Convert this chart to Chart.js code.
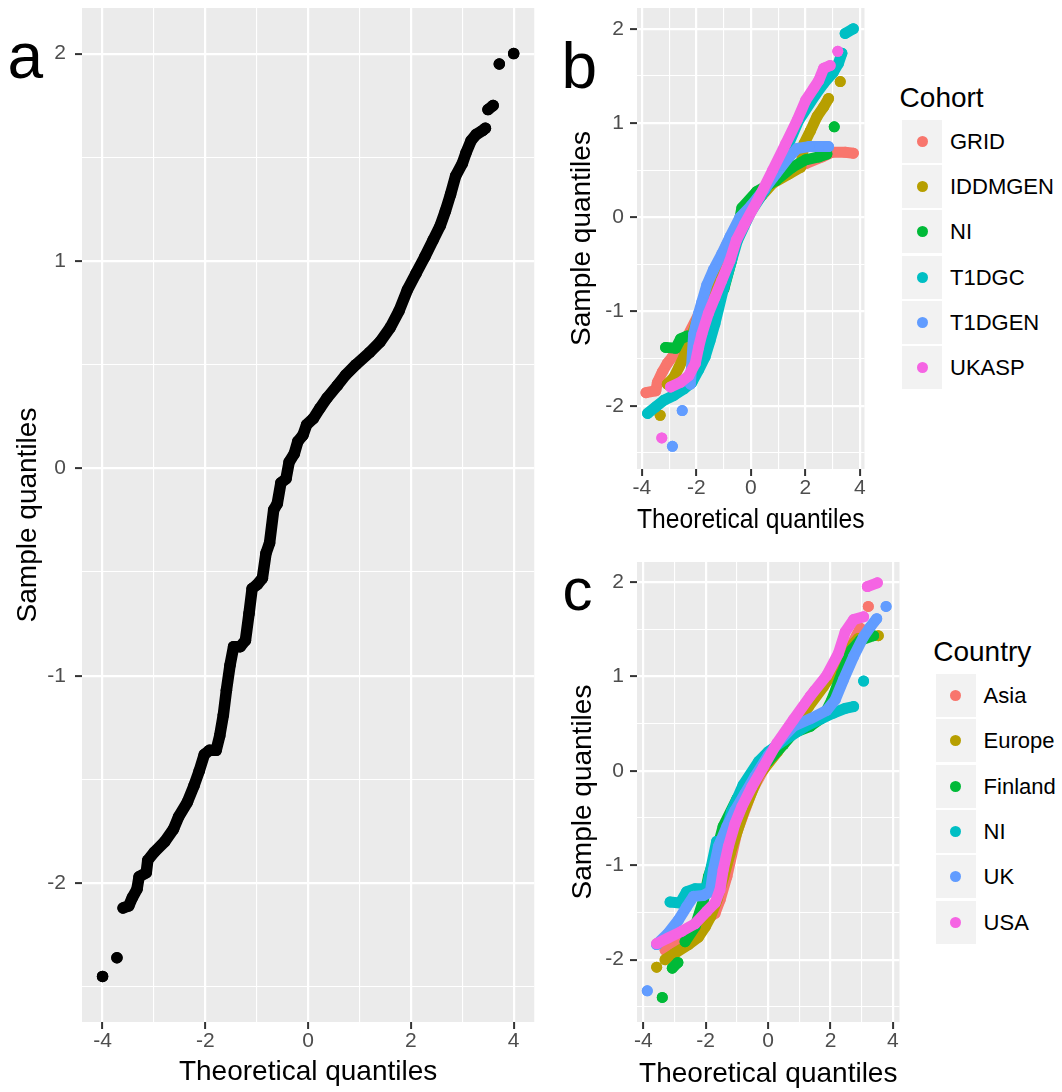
<!DOCTYPE html>
<html>
<head>
<meta charset="utf-8">
<script src="https://cdn.jsdelivr.net/npm/chart.js@4.4.1/dist/chart.umd.min.js"></script>
<style>
  html, body { margin: 0; padding: 0; background: #fff; }
  #page { position: relative; width: 1062px; height: 1092px; overflow: hidden; font-family: 'Liberation Sans', Arial, sans-serif; }
  canvas { position: absolute; }
  .tag { position: absolute; line-height: 1; color: #000; }
  .legend-title { position: absolute; font-size: 28px; line-height: 28px; color: #000; white-space: nowrap; }
  .key { position: absolute; width: 42px; height: 45px; background: #F2F2F2; border: 1.5px solid #fff; box-sizing: border-box; }
  .dot { position: absolute; width: 11px; height: 11px; border-radius: 50%; }
  .key-label { position: absolute; font-size: 22px; line-height: 45px; height: 45px; color: #000; white-space: nowrap; }
</style>
</head>
<body>
<div id="page">
  <canvas id="qqAll" width="540" height="1092" style="left:0;top:0"></canvas>
  <canvas id="qqCohort" width="310" height="540" style="left:560px;top:0"></canvas>
  <canvas id="qqCountry" width="345" height="552" style="left:560px;top:540px"></canvas>
</div>
<script>
// QQ data: [theoretical, sample]; null = gap between separate dots
const allSamples = [
  [-4.00, -2.45], null, [-3.72, -2.36], null,
  [-3.60, -2.12], [-3.49, -2.11], [-3.42, -2.07], [-3.33, -2.03], [-3.29, -1.97], [-3.15, -1.95],
  [-3.12, -1.89], [-2.99, -1.85], [-2.79, -1.80], [-2.62, -1.74], [-2.52, -1.68], [-2.35, -1.61],
  [-2.22, -1.53], [-2.12, -1.46], [-2.02, -1.38], [-1.92, -1.36], [-1.79, -1.36], [-1.72, -1.29],
  [-1.65, -1.19], [-1.59, -1.07], [-1.52, -0.95], [-1.45, -0.86], [-1.32, -0.86], [-1.22, -0.83],
  [-1.15, -0.70], [-1.09, -0.58], [-0.99, -0.56], [-0.89, -0.53], [-0.82, -0.41], [-0.75, -0.36],
  [-0.67, -0.20], [-0.60, -0.17], [-0.53, -0.07], [-0.43, -0.05], [-0.37, 0.03], [-0.27, 0.07],
  [-0.20, 0.13], [-0.10, 0.16], [-0.03, 0.21], [0.10, 0.24], [0.23, 0.29], [0.37, 0.34],
  [0.57, 0.40], [0.73, 0.45], [0.93, 0.50], [1.20, 0.56], [1.40, 0.61], [1.60, 0.68],
  [1.77, 0.76], [1.93, 0.86], [2.10, 0.94], [2.27, 1.02], [2.43, 1.10], [2.57, 1.17],
  [2.67, 1.24], [2.77, 1.32], [2.87, 1.41], [3.00, 1.47], [3.07, 1.52], [3.17, 1.58],
  [3.27, 1.61], [3.40, 1.63], [3.45, 1.64], null, [3.50, 1.73], [3.60, 1.75], null,
  [3.72, 1.95], null, [4.00, 2.00]
];

const cohortNames = ['GRID', 'IDDMGEN', 'NI', 'T1DGC', 'T1DGEN', 'UKASP'];
const gridSamples = [
  [-3.85, -1.86], [-3.49, -1.84], [-3.43, -1.75], [-3.25, -1.64], [-3.07, -1.55], [-2.88, -1.48],
  [-2.70, -1.41], [-2.34, -1.27], [-1.90, -1.02], [-1.40, -0.62], [-0.90, -0.30], [-0.40, -0.02],
  [0.00, 0.13], [0.60, 0.32], [1.20, 0.47], [1.60, 0.53], [2.01, 0.57], [2.61, 0.64],
  [2.97, 0.69], [3.46, 0.69], [3.76, 0.68]
];
const iddmgenSamples = [
  [-3.33, -2.10], null,
  [-3.07, -1.77], [-2.83, -1.70], [-2.64, -1.59], [-2.46, -1.48], [-2.34, -1.38], [-2.10, -1.20],
  [-1.98, -1.09], [-1.60, -0.85], [-1.10, -0.50], [-0.60, -0.18], [0.00, 0.10], [0.40, 0.23],
  [0.80, 0.36], [1.40, 0.46], [1.83, 0.53], [1.95, 0.78], [2.19, 0.92], [2.43, 1.07],
  [2.67, 1.17], [2.85, 1.26], null, [3.28, 1.44]
];
const niSamples = [
  [-3.13, -1.38], [-2.76, -1.39], [-2.58, -1.29], [-2.34, -1.26], [-2.16, -1.27], [-1.90, -1.12],
  [-1.62, -0.99], [-0.99, -0.76], [-0.71, -0.46], [-0.33, 0.10], [0.20, 0.27], [0.92, 0.39],
  [1.52, 0.53], [2.01, 0.61], [2.49, 0.64], [2.79, 0.67], null, [3.06, 0.96]
];
const t1dgcSamples = [
  [-3.79, -2.08], [-3.49, -2.01], [-3.19, -1.94], [-2.83, -1.89], [-2.46, -1.82], [-2.16, -1.75],
  [-1.92, -1.62], [-1.68, -1.48], [-1.50, -1.31], [-1.32, -1.13], [-1.00, -0.75], [-0.50, -0.25],
  [0.00, 0.06], [0.50, 0.28], [1.00, 0.55], [1.30, 0.72], [1.76, 1.03], [2.37, 1.30],
  [2.67, 1.42], [3.03, 1.54], [3.21, 1.63], [3.34, 1.74], null, [3.46, 1.95], [3.76, 2.00]
];
const t1dgenSamples = [
  [-2.88, -2.43], null, [-2.52, -2.05], null,
  [-2.22, -1.77], [-2.10, -1.24], [-1.92, -1.02], [-1.80, -0.90], [-1.62, -0.72], [-1.38, -0.56],
  [-1.07, -0.39], [-0.77, -0.21], [-0.40, 0.00], [0.00, 0.12], [0.50, 0.30], [0.92, 0.46],
  [1.40, 0.64], [1.70, 0.73], [2.13, 0.75], [2.55, 0.75], [2.85, 0.75]
];
const ukaspSamples = [
  [-3.27, -2.34], null,
  [-2.95, -1.80], [-2.58, -1.75], [-2.28, -1.68], [-2.04, -1.55], [-1.92, -1.38], [-1.80, -1.24],
  [-1.56, -1.02], [-1.32, -0.85], [-1.07, -0.67], [-0.77, -0.46], [-0.53, -0.24], [-0.23, -0.07],
  [0.32, 0.22], [0.80, 0.50], [1.28, 0.78], [1.70, 1.03], [2.01, 1.24], [2.31, 1.37],
  [2.49, 1.45], [2.67, 1.58], [2.91, 1.61], null, [3.19, 1.76]
];

const countryNames = ['Asia', 'Europe', 'Finland', 'NI', 'UK', 'USA'];
const asiaSamples = [
  [-3.30, -1.90], [-2.80, -1.78], [-2.30, -1.65], [-1.70, -1.51], [-1.54, -1.37], [-1.32, -1.12],
  [-1.00, -0.65], [-0.50, -0.20], [0.00, 0.10], [0.50, 0.35], [1.00, 0.60], [1.50, 0.85],
  [2.00, 1.00], [2.63, 1.30], [2.95, 1.51], null, [3.21, 1.74]
];
const europeSamples = [
  [-3.57, -2.08], null,
  [-3.30, -2.00], [-2.98, -1.93], [-2.55, -1.84], [-2.23, -1.76], [-2.01, -1.65], [-1.85, -1.55],
  [-1.64, -1.37], [-1.42, -1.12], [-1.21, -0.87], [-0.80, -0.45], [-0.30, -0.05], [0.30, 0.20],
  [0.80, 0.45], [1.30, 0.68], [1.77, 0.89], [2.30, 1.14], [2.75, 1.35], [2.89, 1.40], null,
  [3.53, 1.43]
];
const finlandSamples = [
  [-3.39, -2.40], null, [-3.07, -2.09], [-2.89, -2.03], null,
  [-2.66, -1.81], [-2.34, -1.65], [-2.07, -1.37], [-1.91, -1.12], [-1.70, -0.91], [-1.44, -0.59],
  [-1.00, -0.30], [-0.50, -0.05], [0.00, 0.10], [0.50, 0.28], [0.81, 0.40], [1.35, 0.47],
  [1.77, 0.57], [2.04, 0.75], [2.36, 1.03], [2.68, 1.28], [2.95, 1.38], [3.38, 1.43]
];
const niCountrySamples = [
  [-3.14, -1.39], [-2.82, -1.40], [-2.61, -1.28], [-2.34, -1.25], [-1.97, -1.25], [-1.65, -0.75],
  [-1.44, -0.75], [-1.17, -0.43], [-0.80, -0.15], [-0.30, 0.10], [0.00, 0.20], [0.50, 0.32],
  [1.20, 0.47], [1.70, 0.55], [2.09, 0.61], [2.47, 0.66], [2.74, 0.68], null, [3.06, 0.95]
];
const ukSamples = [
  [-3.87, -2.33], null,
  [-3.57, -1.84], [-3.20, -1.72], [-2.87, -1.58], [-2.61, -1.44], [-2.39, -1.33], [-2.07, -1.32],
  [-1.85, -1.28], [-1.75, -1.05], [-1.59, -0.80], [-1.32, -0.59], [-1.06, -0.42], [-0.74, -0.24],
  [-0.42, -0.06], [0.00, 0.16], [0.40, 0.33], [0.81, 0.47], [1.35, 0.55], [1.88, 0.64],
  [2.15, 0.75], [2.41, 0.96], [2.74, 1.21], [3.06, 1.42], [3.27, 1.52], [3.48, 1.61], null,
  [3.78, 1.74]
];
const usaSamples = [
  [-3.57, -1.83], [-3.20, -1.77], [-2.77, -1.70], [-2.34, -1.62], [-1.97, -1.49], [-1.70, -1.40],
  [-1.54, -1.26], [-1.44, -1.05], [-1.27, -0.80], [-1.06, -0.56], [-0.84, -0.38], [-0.52, -0.17],
  [-0.15, 0.04], [0.28, 0.29], [0.81, 0.54], [1.35, 0.79], [1.88, 1.01], [2.25, 1.24],
  [2.47, 1.47], [2.74, 1.60], [3.06, 1.63], null, [3.18, 1.95], [3.50, 1.99]
];

// ggplot default hue palette for 6 groups
const huePalette = ['#F8766D', '#B79F00', '#00BA38', '#00BFC4', '#619CFF', '#F564E3'];

Chart.defaults.font.family = "'Liberation Sans', Arial, sans-serif";
Chart.defaults.animation = false;

const panelBackground = {
  id: 'panelBackground',
  beforeDraw(chart) {
    const { ctx, chartArea: a } = chart;
    ctx.save();
    ctx.fillStyle = '#EBEBEB';
    ctx.fillRect(a.left, a.top, a.right - a.left, a.bottom - a.top);
    ctx.restore();
  }
};

const toXY = pts => pts.map(p => p ? { x: p[0], y: p[1] } : { x: null, y: null });
const isEven = v => Math.abs(v % 2) < 1e-9;
const isWhole = v => Math.abs(v % 1) < 1e-9;

function quantileAxis(cfg) {
  return {
    type: 'linear',
    min: cfg.min,
    max: cfg.max,
    border: { display: false },
    grid: {
      color: '#FFFFFF',
      lineWidth: ctx => (ctx.tick && cfg.major(ctx.tick.value)) ? 2.2 : 1.1,
      drawTicks: true,
      tickLength: 7,
      tickWidth: 2,
      tickColor: ctx => (ctx.tick && cfg.major(ctx.tick.value)) ? '#333333' : 'rgba(0,0,0,0)'
    },
    ticks: {
      stepSize: cfg.step,
      includeBounds: false,
      autoSkip: false,
      maxRotation: 0,
      color: '#4D4D4D',
      font: { size: 21 },
      padding: cfg.labelPad,
      callback: v => cfg.major(v) ? String(v) : ''
    },
    title: {
      display: true,
      text: cfg.title,
      color: '#000000',
      font: { size: 28 },
      padding: cfg.titlePad
    },
    afterFit: s => {
      if (s.isHorizontal()) s.height = cfg.fit; else s.width = cfg.fit;
      // keep the panel edges where the layout padding puts them
      s.paddingTop = 0;
      s.paddingBottom = 0;
      s.paddingLeft = 0;
      s.paddingRight = 0;
    }
  };
}

function qqPanel(id, names, colors, seriesList, opt) {
  const datasets = seriesList.map((pts, i) => ({
    label: names[i],
    data: toXY(pts),
    showLine: true,
    spanGaps: false,
    borderColor: colors[i],
    backgroundColor: colors[i],
    borderWidth: opt.band,
    borderCapStyle: 'round',
    borderJoinStyle: 'round',
    pointRadius: opt.band / 2,
    pointHoverRadius: opt.band / 2,
    pointBorderWidth: 0,
    pointBackgroundColor: colors[i],
    order: seriesList.length - 1 - i
  }));
  return new Chart(document.getElementById(id), {
    type: 'scatter',
    data: { datasets },
    options: {
      responsive: false,
      layout: { padding: opt.padding },
      plugins: { legend: { display: false }, tooltip: { enabled: false } },
      events: [],
      scales: {
        x: quantileAxis({
          min: opt.xRange[0], max: opt.xRange[1], step: 1, major: isEven,
          title: 'Theoretical quantiles', titlePad: { bottom: opt.xTitlePad },
          labelPad: 0, fit: opt.xFit
        }),
        y: quantileAxis({
          min: opt.yRange[0], max: opt.yRange[1], step: 0.5, major: isWhole,
          title: 'Sample quantiles', titlePad: { top: opt.yTitlePad },
          labelPad: opt.yLabelPad, fit: opt.yFit
        })
      }
    },
    plugins: [panelBackground]
  });
}

qqPanel('qqAll', ['All'], ['#000000'], [allSamples], {
  band: 11.5, padding: { left: 0, right: 2, top: 8, bottom: 0 },
  xRange: [-4.4, 4.4], yRange: [-2.67, 2.22],
  xFit: 70, yFit: 82, xTitlePad: 3, yTitlePad: 11.5, yLabelPad: 9
});

qqPanel('qqCohort', cohortNames, huePalette,
  [gridSamples, iddmgenSamples, niSamples, t1dgcSamples, t1dgenSamples, ukaspSamples], {
  band: 11, padding: { left: 0, right: 4, top: 8, bottom: 0 },
  xRange: [-4.18, 4.17], yRange: [-2.67, 2.22],
  xFit: 71, yFit: 77, xTitlePad: 3.4, yTitlePad: 5.2, yLabelPad: 6
});

qqPanel('qqCountry', countryNames, huePalette,
  [asiaSamples, europeSamples, finlandSamples, niCountrySamples, ukSamples, usaSamples], {
  band: 11, padding: { left: 0, right: 5, top: 22, bottom: 0 },
  xRange: [-4.2, 4.21], yRange: [-2.66, 2.21],
  xFit: 70, yFit: 77, xTitlePad: 1, yTitlePad: 6.2, yLabelPad: 6
});

// panel tags and legends as page text
const page = document.getElementById('page');

function addText(cls, text, left, top, extra) {
  const el = document.createElement('div');
  el.className = cls;
  el.textContent = text;
  el.style.left = left + 'px';
  el.style.top = top + 'px';
  if (extra) Object.assign(el.style, extra);
  page.appendChild(el);
  return el;
}

addText('tag', 'a', 7.5, 23.8, { fontSize: '64px' });
addText('tag', 'b', 561.6, 34, { fontSize: '64px' });
addText('tag', 'c', 562.6, 560, { fontSize: '60px' });

function addLegend(title, names, colors, pos) {
  addText('legend-title', title, pos.left - 1.4, pos.titleTop);
  names.forEach((name, i) => {
    const top = pos.top + i * 45.3;
    const key = document.createElement('div');
    key.className = 'key';
    key.style.left = pos.left + 'px';
    key.style.top = top + 'px';
    page.appendChild(key);
    const dot = document.createElement('div');
    dot.className = 'dot';
    dot.style.background = colors[i];
    dot.style.left = (pos.left + 21 - 5.5) + 'px';
    dot.style.top = (top + 22.6 - 5.5) + 'px';
    page.appendChild(dot);
    addText('key-label', name, pos.left + 49, top);
  });
}

addLegend('Cohort', cohortNames, huePalette, { left: 901, titleTop: 83.6, top: 118.6 });
addLegend('Country', countryNames, huePalette, { left: 934.6, titleTop: 638.4, top: 673 });
</script>
</body>
</html>
